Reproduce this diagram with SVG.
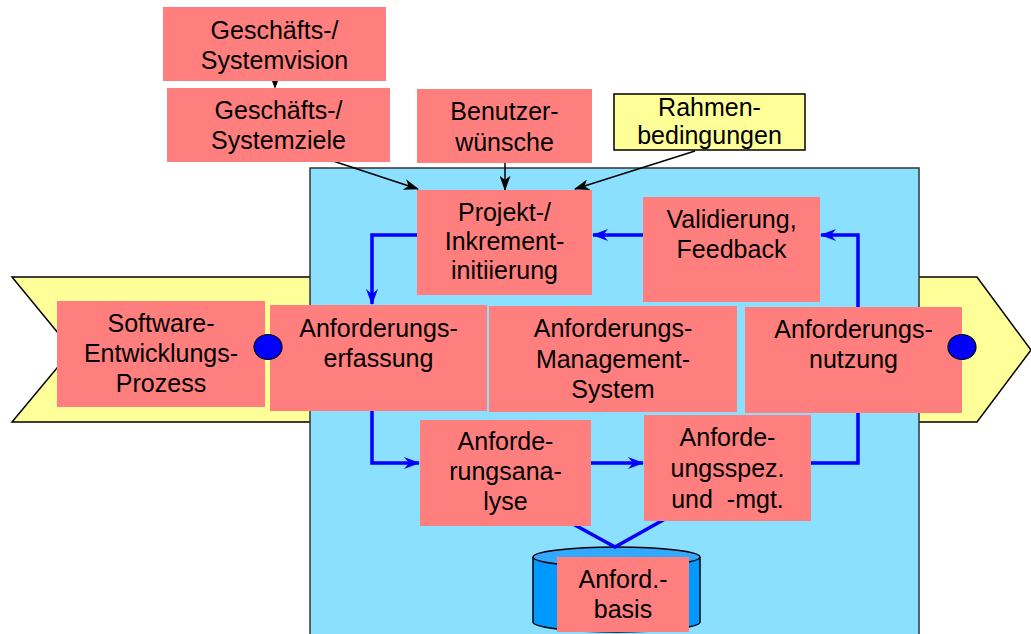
<svg xmlns="http://www.w3.org/2000/svg" width="1031" height="634" viewBox="0 0 1031 634">
<style>
.n{fill:#FF7F7F}
.y{fill:#FFFF99;stroke:#000;stroke-width:1.5}
.t{font-family:"Liberation Sans",Arial,sans-serif;font-size:25px;fill:#000;text-anchor:middle}
.bl{fill:none;stroke:#0000FF;stroke-width:3.5}
.bk{fill:none;stroke:#000;stroke-width:1.5}
.dot{fill:#0000FF;stroke:#000;stroke-width:1.2}
</style>
<defs>
<marker id="ak" viewBox="0 0 14 10" refX="13" refY="5" markerWidth="16" markerHeight="11" markerUnits="userSpaceOnUse" orient="auto"><path d="M0,0 L14,5 L0,10 L4,5 z" fill="#000"/></marker>
<marker id="ab" viewBox="0 0 16 12" refX="15" refY="6" markerWidth="16" markerHeight="12" markerUnits="userSpaceOnUse" orient="auto"><path d="M0,0 L16,6 L0,12 L5,6 z" fill="#0000FF"/></marker>
</defs>
<rect width="1031" height="634" fill="#fff"/>
<g id="band"><path class="y" d="M12,277 H977 L1031,350 L977,422 H12 L72,350 Z"/></g>
<g id="panel"><rect x="310" y="168" width="609" height="470" fill="#8CE0FF" stroke="#333" stroke-width="1.5"/></g>
<g id="basis-cyl"><path d="M533,557 V622 A83.5,10 0 0 0 700,622 V557" fill="#0099FF" stroke="#000" stroke-width="1.5"/><ellipse cx="616.5" cy="557" rx="83.5" ry="10" fill="#33A8FF" stroke="#000" stroke-width="1.5"/></g>
<g id="connectors">
<path class="bl" d="M417,235 H372 V304" marker-end="url(#ab)"/>
<path class="bl" d="M372,411 V463 H419" marker-end="url(#ab)"/>
<path class="bl" d="M591,463 H643" marker-end="url(#ab)"/>
<path class="bl" d="M811,463 H858 V235 H821" marker-end="url(#ab)"/>
<path class="bl" d="M643,235 H593" marker-end="url(#ab)"/>
<path class="bl" d="M573,524 L615,547 L665,519"/>
<path class="bk" d="M333,161 L418,189" marker-end="url(#ak)"/>
<path class="bk" d="M505,163 V190" marker-end="url(#ak)"/>
<path class="bk" d="M695,151 L575,189" marker-end="url(#ak)"/>
<path d="M272,81 H278 L275,89 Z" fill="#000"/>
</g>
<g id="vision"><rect class="n" x="163" y="7" width="223" height="74"/><text class="t" x="274.5" y="39">Geschäfts-/</text><text class="t" x="274.5" y="69">Systemvision</text></g>
<g id="ziele"><rect class="n" x="167" y="88" width="223" height="74"/><text class="t" x="278.5" y="119">Geschäfts-/</text><text class="t" x="278.5" y="149">Systemziele</text></g>
<g id="wuensche"><rect class="n" x="417" y="89" width="175" height="74"/><text class="t" x="504.5" y="120">Benutzer-</text><text class="t" x="504.5" y="151">wünsche</text></g>
<g id="rahmen"><rect class="y" x="614" y="94" width="191" height="56"/><text class="t" x="709.5" y="116">Rahmen-</text><text class="t" x="709.5" y="144">bedingungen</text></g>
<g id="projekt"><rect class="n" x="417" y="190" width="175" height="105"/><text class="t" x="504.5" y="221">Projekt-/</text><text class="t" x="504.5" y="250">Inkrement-</text><text class="t" x="504.5" y="279">initiierung</text></g>
<g id="validierung"><rect class="n" x="643" y="197" width="177" height="105"/><text class="t" x="731.5" y="228">Validierung,</text><text class="t" x="731.5" y="258">Feedback</text></g>
<g id="prozess"><rect class="n" x="57" y="301" width="208" height="106"/><text class="t" x="161" y="332">Software-</text><text class="t" x="161" y="362">Entwicklungs-</text><text class="t" x="161" y="392">Prozess</text></g>
<g id="erfassung"><rect class="n" x="270" y="305" width="217" height="106"/><text class="t" x="378.5" y="337">Anforderungs-</text><text class="t" x="378.5" y="367">erfassung</text></g>
<g id="management"><rect class="n" x="489" y="306" width="248" height="106"/><text class="t" x="613" y="337">Anforderungs-</text><text class="t" x="613" y="368">Management-</text><text class="t" x="613" y="398">System</text></g>
<g id="nutzung"><rect class="n" x="745" y="307" width="217" height="106"/><text class="t" x="853.5" y="338">Anforderungs-</text><text class="t" x="853.5" y="368">nutzung</text></g>
<g id="analyse"><rect class="n" x="420" y="420" width="171" height="106"/><text class="t" x="505.5" y="450">Anforde-</text><text class="t" x="505.5" y="480">rungsana-</text><text class="t" x="505.5" y="510">lyse</text></g>
<g id="spez"><rect class="n" x="644" y="415" width="167" height="106"/><text class="t" x="727.5" y="446">Anforde-</text><text class="t" x="727.5" y="477">ungsspez.</text><text class="t" x="727.5" y="508" xml:space="preserve">und  -mgt.</text></g>
<g id="basis"><rect class="n" x="557" y="557" width="132" height="75"/><text class="t" x="623" y="588">Anford.-</text><text class="t" x="623" y="618">basis</text></g>
<g id="dots"><ellipse class="dot" cx="268" cy="347" rx="14" ry="12.5"/><ellipse class="dot" cx="962" cy="347" rx="14" ry="12.5"/></g>
</svg>
